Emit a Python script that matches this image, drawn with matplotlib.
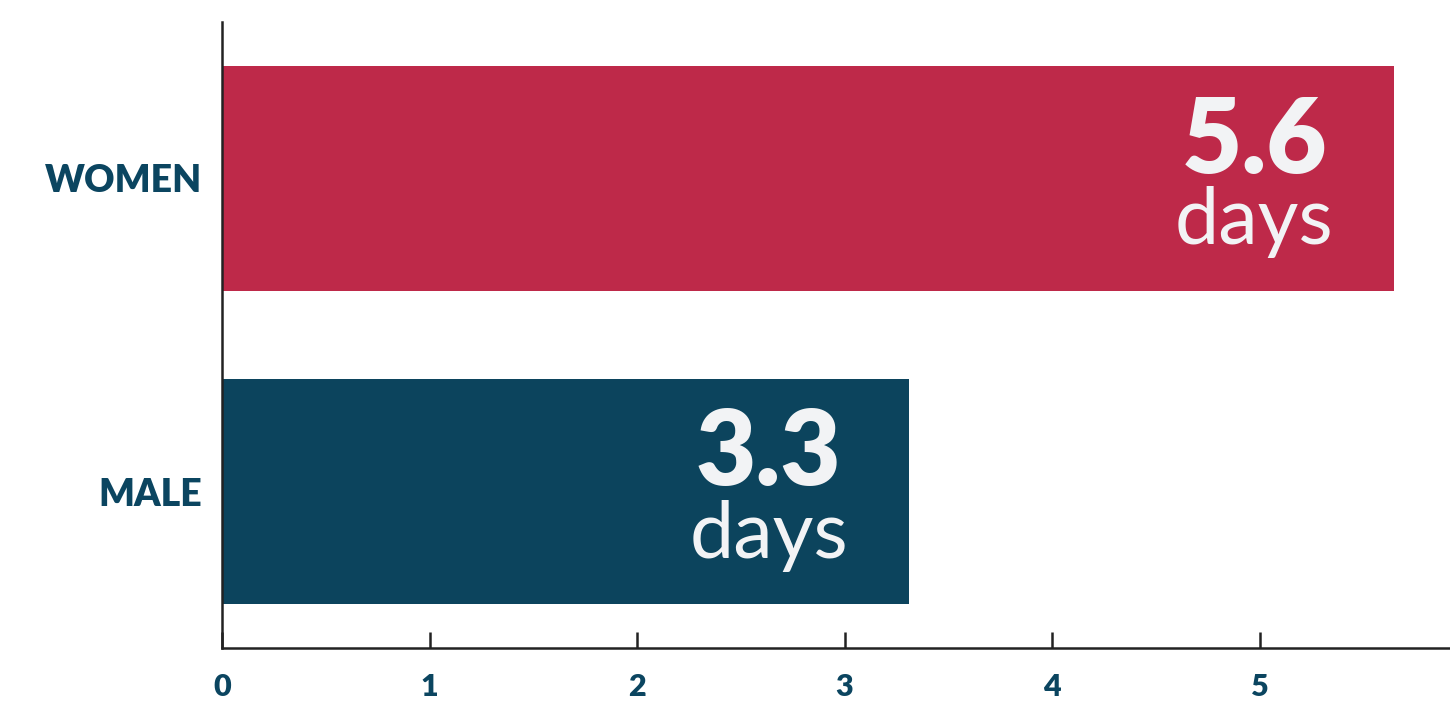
import numpy as np
import matplotlib.pyplot as plt

# Данные
categories = ['MALE', 'WOMEN']
values = [3.31, 5.65]
value_labels = ['3.3', '5.6']
unit_label = 'days'
bar_colors = ['#0C445D', '#BE2949']
xticks = [0, 1, 2, 3, 4, 5]

text_color = '#0B4560'
inner_color = '#F2F3F5'
axis_color = '#222222'

plt.rcParams['font.family'] = ['Lato', 'DejaVu Sans']

fig = plt.figure(figsize=(14.5, 7.07), dpi=100)
ax = fig.add_axes([222 / 1450, 1 - 648 / 707, 1 - 222 / 1450, (648 - 22) / 707])

y = np.arange(len(categories))
ax.barh(y, values, height=0.72, color=bar_colors)

# Подписи значений внутри столбцов
for yi, v, lab in zip(y, values, value_labels):
    ax.annotate(lab, xy=(v, yi), xytext=(-140, 6), textcoords='offset pixels',
                ha='center', va='baseline', fontsize=75, fontweight='heavy',
                color=inner_color)
    ax.annotate(unit_label, xy=(v, yi), xytext=(-140, -66), textcoords='offset pixels',
                ha='center', va='baseline', fontsize=57, fontweight='normal',
                color=inner_color)

ax.set_xlim(0, (1450 - 222) / 207.5)
ax.set_ylim(-0.5, 1.5)
ax.set_xticks(xticks)
ax.set_xticklabels([str(t) for t in xticks])
ax.set_yticks(y)
ax.set_yticklabels(categories)

for side in ['top', 'right']:
    ax.spines[side].set_visible(False)
for side in ['left', 'bottom']:
    ax.spines[side].set_color(axis_color)
    ax.spines[side].set_linewidth(1.8)

ax.tick_params(axis='x', direction='in', length=11.5, width=1.8, color=axis_color,
               pad=18, labelsize=22, labelcolor=text_color)
ax.tick_params(axis='y', length=0, pad=14, labelsize=27, labelcolor=text_color)
for t in ax.get_xticklabels() + ax.get_yticklabels():
    t.set_fontweight('heavy')

fig.savefig('out.png', dpi=100)
